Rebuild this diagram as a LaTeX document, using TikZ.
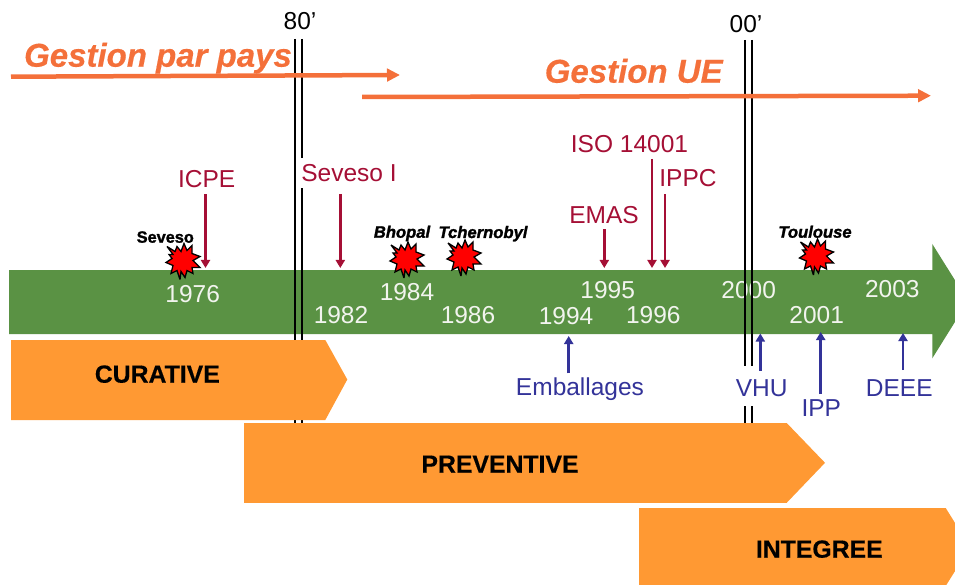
\documentclass[tikz,border=0pt]{standalone}
\usepackage{fontspec}
\setmainfont{Liberation Sans}
\newfontfamily\fakebold[FakeBold=1.6]{Liberation Sans}
\newfontfamily\heavy[FakeBold=0.4]{Liberation Sans}
\usetikzlibrary{arrows.meta}
\definecolor{greenbar}{HTML}{5A9244}
\definecolor{blockor}{HTML}{FF9933}
\definecolor{gestion}{HTML}{F4703A}
\definecolor{lawred}{HTML}{A50F35}
\definecolor{lawblue}{HTML}{333399}
\definecolor{yeartxt}{HTML}{F2F4EE}
\tikzset{
  txt/.style={inner sep=0pt,anchor=base,font=\fontsize{24.5}{28}\selectfont},
  yearlbl/.style={txt,text=yeartxt},
  redlbl/.style={txt,text=lawred},
  bluelbl/.style={txt,text=lawblue},
  blacklbl/.style={txt,text=black},
  blocklbl/.style={txt,font=\fontsize{24.8}{28}\selectfont\heavy\bfseries,text=black},
  gestlbl/.style={txt,font=\fontsize{33}{38}\selectfont\heavy\bfseries\itshape,text=gestion},
  eventlbl/.style={txt,font=\fontsize{16.3}{19}\selectfont\fakebold\bfseries,text=black},
  eventital/.style={txt,font=\fontsize{16.6}{19}\selectfont\fakebold\bfseries\itshape,text=black},
  redarrow/.style={draw=lawred,line width=2.6pt,-{Triangle[length=8pt,width=9pt]}},
  bluearrow/.style={draw=lawblue,line width=2.6pt,-{Triangle[length=8pt,width=9pt]}},
  gestarrow/.style={draw=gestion,line width=4.5pt,-{Triangle[length=13pt,width=12.5pt]}},
  dbl/.style={draw=black,line width=1.9pt},
  bar/.style={fill=greenbar,draw=none},
  block/.style={fill=blockor,draw=none},
  burst/.pic={\draw[fill=red,draw=black,line width=1.3pt,line join=miter,miter limit=3]
    (-16,-15)--(-8,-10)--(-6,-15)--(-2,-10)--(1,-18)--(4,-11)--(9,-16)--(9,-8)--(17,-5)--(10,-1)--(17,6)--(9,6)--(10,12)--(4,9)--(2,16)--(-2,10)--(-3,18)--(-6,9)--(-12,12)--(-10,4)--(-17,1)--(-11,-3)--(-14,-7)--(-10,-7)--cycle;},
}
\begin{document}
\begin{tikzpicture}[x=1pt,y=-1pt]
\useasboundingbox (0,0) rectangle (955,585);
\clip (0,0) rectangle (955,585);

% green time bar
\path[bar] (9,270) -- (932.3,270) -- (932.3,244) -- (968,301) -- (932.3,358.3) -- (932.3,334) -- (9,334) -- cycle;

% year labels
\node[yearlbl] (y1976) at (192.7,302) {1976};
\node[yearlbl] (y1984) at (407,300) {1984};
\node[yearlbl] (y1982) at (341,323.3) {1982};
\node[yearlbl] (y1986) at (468,323.3) {1986};
\node[yearlbl] (y1994) at (566,324.3) {1994};
\node[yearlbl] (y1995) at (607.7,298.3) {1995};
\node[yearlbl] (y1996) at (653.3,323.3) {1996};
\node[yearlbl] (y2000) at (748.7,298.5) {2000};
\node[yearlbl] (y2001) at (816.7,323.3) {2001};
\node[yearlbl] (y2003) at (892.3,298) {2003};

% decade markers
\node[blacklbl] (d80) at (300,30) {80’};
\node[blacklbl] (d00) at (746,33) {00’};
\coordinate (l80a) at (295,39);
\coordinate (l80b) at (301.7,39);
\coordinate (l00a) at (745,40);
\coordinate (l00b) at (751.7,40);
\coordinate (e80a) at (295,424);
\coordinate (e80b) at (301.7,424);
\coordinate (e00a) at (745,424);
\coordinate (e00b) at (751.7,424);
\draw[dbl] (l80a) -- (e80a);
\draw[dbl] (l80b) -- (e80b);
\draw[dbl] (l00a) -- (e00a);
\draw[dbl] (l00b) -- (e00b);

% orange phase blocks
\path[block] (11,340) -- (325.3,340) -- (347.3,379.5) -- (325.3,420) -- (11,420) -- cycle;
\path[block] (244,423) -- (786.7,423) -- (825,462.8) -- (786.7,502.8) -- (244,502.8) -- cycle;
\path[block] (639,508) -- (945.7,508) -- (970,547) -- (945.7,586) -- (639,586) -- cycle;
\node[blocklbl] (cur) at (157.3,382.7) {CURATIVE};
\node[blocklbl] (pre) at (500,472.7) {PREVENTIVE};
\node[blocklbl] (int) at (819.3,557.7) {INTEGREE};

% gestion arrows
\node[gestlbl] (gpays) at (158,66.7) {Gestion par pays};
\node[gestlbl] (gue) at (633.7,82.7) {Gestion UE};
\coordinate (gp1) at (11,76.7);
\coordinate (gp2) at (400,75);
\coordinate (gu1) at (362,97);
\coordinate (gu2) at (931,95.7);
\draw[gestarrow] (gp1) -- (gp2);
\draw[gestarrow] (gu1) -- (gu2);

% red labels and arrows
\node[redlbl,outer ysep=6pt] (icpe) at (206.7,188) {ICPE};
\node[redlbl,fill=white,text height=23.7pt,text depth=6.3pt,inner xsep=1pt,outer ysep=6pt] (sev1) at (349,181.7) {Seveso I};
\node[redlbl,outer ysep=6pt] (iso) at (629.5,152.7) {ISO 14001};
\node[redlbl,outer ysep=7pt] (ippc) at (688,187) {IPPC};
\node[redlbl,outer ysep=5pt] (emas) at (604,224) {EMAS};
\coordinate (ticpe) at (205.5,268);
\coordinate (tsev) at (340.3,268);
\coordinate (temas) at (604.3,268);
\coordinate (tiso) at (652,268);
\coordinate (tippc) at (665,268);
\draw[redarrow] (ticpe |- icpe.south) -- (ticpe);
\draw[redarrow] (tsev |- sev1.south) -- (tsev);
\draw[redarrow] (temas |- emas.south) -- (temas);
\draw[redarrow] (tiso |- iso.south) -- (tiso);
\draw[redarrow] (tippc |- ippc.south) -- (tippc);

% blue labels and arrows
\node[bluelbl,outer ysep=4.5pt] (emb) at (580,395.7) {Emballages};
\node[bluelbl,fill=white,text height=30pt,text depth=10pt,inner xsep=1pt] (vhu) at (761.7,396) {VHU};
\node[bluelbl,outer ysep=5pt] (ipp) at (821.3,416) {IPP};
\node[bluelbl,outer ysep=9pt] (deee) at (899.3,396) {DEEE};
\coordinate (temb) at (568.7,336);
\coordinate (tvhu) at (760.3,333.5);
\coordinate (tipp) at (820.7,332);
\coordinate (tdeee) at (903,333);
\draw[bluearrow] (temb |- emb.north) -- (temb);
\draw[bluearrow,shorten <=-5pt] (tvhu |- vhu.north) -- (tvhu);
\draw[bluearrow] (tipp |- ipp.north) -- (tipp);
\draw[bluearrow] (tdeee |- deee.north) -- (tdeee);

% accidents
\node[eventlbl] (eSeveso) at (165.3,242.7) {Seveso};
\node[eventital] (eBhopal) at (402,237.7) {Bhopal};
\node[eventital] (eTcher) at (483,238) {Tchernobyl};
\node[eventital] (eToul) at (815,237.7) {Toulouse};
\coordinate (bSeveso) at (183,261.5);
\coordinate (bBhopal) at (407,260);
\coordinate (bTcher) at (464,258);
\coordinate (bToul) at (816.5,257);
\pic at (bSeveso) {burst};
\pic at (bBhopal) {burst};
\pic at (bTcher) {burst};
\pic at (bToul) {burst};
\end{tikzpicture}
\end{document}
